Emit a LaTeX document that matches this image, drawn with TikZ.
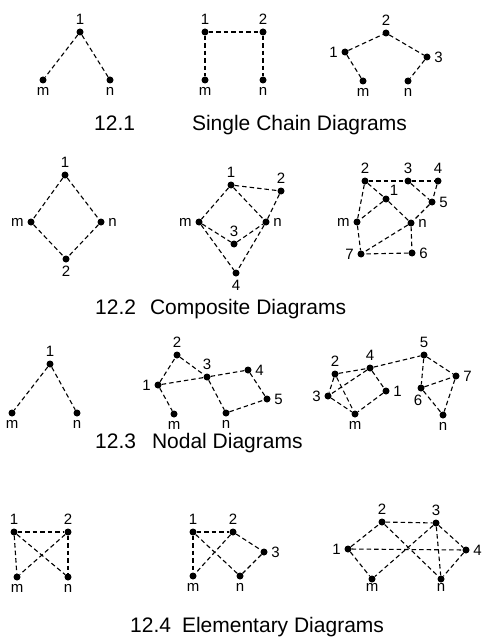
\documentclass[tikz,border=0pt]{standalone}
\usepackage{fontspec}
\setmainfont{Liberation Sans}

\begin{document}
\begin{tikzpicture}[x=1pt,y=-1pt,dot/.style={circle,fill=black,inner sep=0pt,minimum size=7pt},edge/.style={line width=1.1pt,dash pattern=on 4.5pt off 3pt},every label/.style={font=\fontsize{15}{17}\selectfont,inner sep=0pt},label distance=3.5pt,caption/.style={anchor=base west,inner sep=0pt,font=\fontsize{21}{25}\selectfont}]
 \path[use as bounding box,fill=white] (0,0) rectangle (485,639);
 % 12.1 single chain
 \node[dot,label=above:1] (sa1) at (80,32) {};
 \node[dot,label=below:m] (sam) at (43,80) {};
 \node[dot,label=below:n] (san) at (110,80) {};
 \node[dot,label=above:1] (sb1) at (205,32) {};
 \node[dot,label=above:2] (sb2) at (263,32) {};
 \node[dot,label=below:m] (sbm) at (205,80) {};
 \node[dot,label=below:n] (sbn) at (263,80) {};
 \node[dot,label=above:2] (sc2) at (386,33) {};
 \node[dot,label=left:1] (sc1) at (345,52) {};
 \node[dot,label=right:3] (sc3) at (427,57) {};
 \node[dot,label=below:m] (scm) at (363,81) {};
 \node[dot,label=below:n] (scn) at (408,81) {};
 \foreach \a/\b in {sa1/sam,sa1/san,sb1/sb2,sb1/sbm,sb2/sbn,sc1/sc2,sc2/sc3,sc1/scm,sc3/scn}
  \draw[edge] (\a) -- (\b);
 \node[caption] (cap1) at (94,131) {12.1\hspace{57pt}Single Chain Diagrams};
 % 12.2 composite
 \node[dot,label=above:1] (ca1) at (65,175) {};
 \node[dot,label=left:m] (cam) at (31,222) {};
 \node[dot,label=right:n] (can) at (101,222) {};
 \node[dot,label=below:2] (ca2) at (66,259) {};
 \node[dot,label=above:1] (cb1) at (231,185) {};
 \node[dot,label=above:2] (cb2) at (281,191) {};
 \node[dot,label=left:m] (cbm) at (199,222) {};
 \node[dot,label=right:n] (cbn) at (266,222) {};
 \node[dot,label=above:3] (cb3) at (234,244) {};
 \node[dot,label=below:4] (cb4) at (236,273) {};
 \node[dot,label=above:2] (cc2) at (365,181) {};
 \node[dot,label=above:3] (cc3) at (408,181) {};
 \node[dot,label=above:4] (cc4) at (438,181) {};
 \node[dot,label={[label distance=1.5pt]above right:1}] (cc1) at (386,199) {};
 \node[dot,label=right:5] (cc5) at (432,202) {};
 \node[dot,label=left:m] (ccm) at (357,222) {};
 \node[dot,label=right:n] (ccn) at (411,223) {};
 \node[dot,label=left:7] (cc7) at (361,254) {};
 \node[dot,label=right:6] (cc6) at (412,253) {};
 \foreach \a/\b in {ca1/cam,ca1/can,cam/ca2,can/ca2,cb1/cb2,cb2/cbn,cb1/cbm,cb1/cbn,cbm/cb3,cb3/cbn,cbm/cb4,cbn/cb4}
  \draw[edge] (\a) -- (\b);
 \foreach \a/\b in {cc2/cc3,cc3/cc4,cc2/cc1,cc1/ccn,cc3/cc5,cc4/cc5,cc5/ccn,cc2/ccm,cc1/ccm,ccm/cc7,ccn/cc7,ccn/cc6,cc6/cc7}
  \draw[edge] (\a) -- (\b);
 \node[caption] (cap2) at (95,314) {12.2\hspace{14pt}Composite Diagrams};
 % 12.3 nodal
 \node[dot,label=above:1] (na1) at (50,364) {};
 \node[dot,label=below:m] (nam) at (12,413) {};
 \node[dot,label=below:n] (nan) at (77,413) {};
 \node[dot,label=above:2] (nb2) at (177,355) {};
 \node[dot,label=left:1] (nb1) at (158,385) {};
 \node[dot,label=above:3] (nb3) at (207,377) {};
 \node[dot,label=right:4] (nb4) at (248,370) {};
 \node[dot,label=right:5] (nb5) at (267,399) {};
 \node[dot,label=below:m] (nbm) at (174,414) {};
 \node[dot,label=below:n] (nbn) at (226,413) {};
 \node[dot,label=above:2] (nc2) at (335,374) {};
 \node[dot,label=above:4] (nc4) at (370,368) {};
 \node[dot,label=above:5] (nc5) at (424,355) {};
 \node[dot,label=right:7] (nc7) at (456,376) {};
 \node[dot,label=left:3] (nc3) at (328,396) {};
 \node[dot,label=right:1] (nc1) at (386,391) {};
 \node[dot,label={[xshift=-3pt]below:6}] (nc6) at (421,388) {};
 \node[dot,label=below:m] (ncm) at (355,414) {};
 \node[dot,label=below:n] (ncn) at (443,415) {};
 \foreach \a/\b in {na1/nam,na1/nan,nb1/nb2,nb2/nb3,nb1/nb3,nb3/nb4,nb4/nb5,nb3/nbn,nbn/nb5,nb1/nbm}
  \draw[edge] (\a) -- (\b);
 \foreach \a/\b in {nc2/nc4,nc4/nc5,nc2/nc3,nc4/nc3,nc2/ncm,nc3/ncm,nc4/nc1,nc1/ncm,nc5/nc6,nc5/nc7,nc6/nc7,nc6/ncn,nc7/ncn}
  \draw[edge] (\a) -- (\b);
 \node[caption] (cap3) at (95,448) {12.3\hspace{16pt}Nodal Diagrams};
 % 12.4 elementary
 \node[dot,label=above:1] (ea1) at (14,532) {};
 \node[dot,label=above:2] (ea2) at (68,532) {};
 \node[dot,label=below:m] (eam) at (17,577) {};
 \node[dot,label=below:n] (ean) at (68,577) {};
 \node[dot,label=above:1] (eb1) at (193,532) {};
 \node[dot,label=above:2] (eb2) at (233,532) {};
 \node[dot,label=right:3] (eb3) at (264,552) {};
 \node[dot,label=below:m] (ebm) at (193,576) {};
 \node[dot,label=below:n] (ebn) at (240,576) {};
 \node[dot,label=above:2] (ec2) at (382,522) {};
 \node[dot,label=above:3] (ec3) at (436,523) {};
 \node[dot,label=left:1] (ec1) at (348,549) {};
 \node[dot,label=right:4] (ec4) at (466,550) {};
 \node[dot,label={[label distance=1pt]below:m}] (ecm) at (372,579) {};
 \node[dot,label={[label distance=1pt]below:n}] (ecn) at (441,579) {};
 \foreach \a/\b in {ea1/ea2,ea1/eam,ea2/ean,ea1/ean,ea2/eam,eb1/eb2,eb1/ebm,eb2/ebm,eb1/ebn,eb2/eb3,eb3/ebn}
  \draw[edge] (\a) -- (\b);
 \foreach \a/\b in {ec2/ec3,ec1/ec2,ec1/ecm,ec1/ec4,ec2/ecn,ec3/ecm,ec3/ecn,ec3/ec4,ec4/ecn}
  \draw[edge] (\a) -- (\b);
 \node[caption] (cap4) at (130,632) {12.4\hspace{11pt}Elementary Diagrams};
\end{tikzpicture}
\end{document}
